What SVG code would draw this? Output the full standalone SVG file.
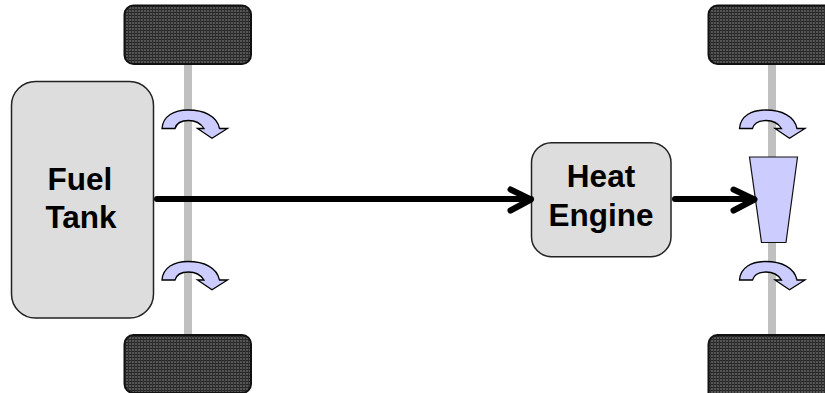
<svg xmlns="http://www.w3.org/2000/svg" width="825" height="393" viewBox="0 0 825 393">
<style>
.wheel{fill:url(#tread);stroke:#111;stroke-width:2}
.axle{fill:#c0c0c0}
.box{fill:#dddddd;stroke:#222;stroke-width:1.5}
.turn{fill:#ccccff;stroke:#000;stroke-width:1.3;stroke-linejoin:miter}
.flow{fill:none;stroke:#000;stroke-width:6;stroke-linecap:round;stroke-linejoin:round}
text{font-family:"Liberation Sans",Arial,sans-serif;font-weight:bold;font-size:31.500px;fill:#000;text-anchor:middle}
</style>
<defs>
<pattern id="tread" width="3" height="3" patternUnits="userSpaceOnUse">
<rect width="3" height="3" fill="#555555"/>
<rect x="0" y="0" width="3" height="1" fill="#252525"/>
<rect x="2" y="0" width="1" height="3" fill="#303030"/>
</pattern>
<path id="turnArrow" d="M162 128.500 C163 116 174 110 188 110 C204 110 217 116 219.500 128.500 L227.500 128.500 L212 138.300 L197.500 128.500 L204 128.500 C200.500 123 195 120.500 188.500 120.500 C182 120.500 176.500 123 175 128.500 Z"/>
</defs>
<g id="axles">
<rect class="axle" x="184" y="60" width="8" height="280"/>
<rect class="axle" x="768" y="60" width="8" height="100"/>
<rect class="axle" x="768" y="240" width="8" height="100"/>
</g>
<g id="wheel-front-top"><rect class="wheel" x="124.500" y="5.500" width="126.500" height="58.500" rx="9"/></g>
<g id="wheel-front-bottom"><rect class="wheel" x="124.500" y="335" width="126.500" height="58" rx="9"/></g>
<g id="wheel-rear-top"><rect class="wheel" x="708.500" y="5.500" width="130" height="58.500" rx="9"/></g>
<g id="wheel-rear-bottom"><rect class="wheel" x="708.500" y="335" width="130" height="70" rx="9"/></g>
<g id="turn-front-top"><use href="#turnArrow" class="turn"/></g>
<g id="turn-front-bottom"><use href="#turnArrow" class="turn" transform="translate(0 151.500)"/></g>
<g id="turn-rear-top"><use href="#turnArrow" class="turn" transform="translate(577.500 0)"/></g>
<g id="turn-rear-bottom"><use href="#turnArrow" class="turn" transform="translate(577.500 151.500)"/></g>
<g id="gearbox"><polygon points="749.500,157 797.500,157 786,242.500 761.500,242.500" fill="#ccccff" stroke="#111" stroke-width="1.200"/></g>
<g id="fuel-tank">
<rect class="box" x="11.500" y="81.500" width="142" height="236.500" rx="24"/>
<text x="80" y="190">Fuel</text>
<text x="81" y="228">Tank</text>
</g>
<g id="heat-engine">
<rect class="box" x="531.500" y="142.700" width="139.500" height="114" rx="20"/>
<text x="601" y="187">Heat</text>
<text x="601" y="226">Engine</text>
</g>
<g id="connectors">
<path class="flow" d="M157 199 H531 M510.500 189.500 L531 199.500 L510.500 210.500"/>
<path class="flow" d="M675 199 H754 M733.500 189.500 L754.500 199.500 L733.500 210.500"/>
</g>
</svg>
